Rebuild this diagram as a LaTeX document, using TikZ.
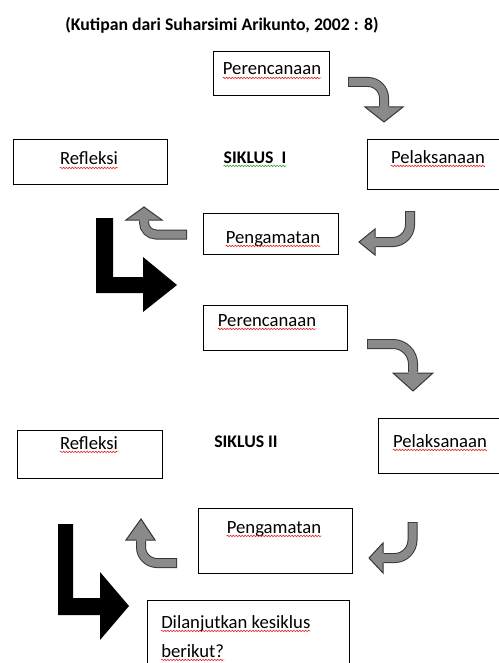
\documentclass[tikz,border=0pt]{standalone}
\usepackage{fontspec}
\setmainfont{Carlito}
\usetikzlibrary{decorations.pathmorphing}
\definecolor{arrfill}{RGB}{138,138,138}
\definecolor{arrline}{RGB}{55,55,55}
\definecolor{spellred}{RGB}{225,40,40}
\definecolor{spellgreen}{RGB}{60,160,60}
\begin{document}
\begin{tikzpicture}[x=0.75pt,y=-0.75pt,
  box/.style 2 args={draw=black, line width=0.8pt, inner sep=0, anchor=north west,
    minimum width=#1*0.75pt, minimum height=#2*0.75pt},
  txt/.style={inner sep=0, anchor=base, font=\fontsize{14}{17}\selectfont},
  ttl/.style={inner sep=0, anchor=base, font=\fontsize{13.3}{16}\selectfont\bfseries},
  spell/.style={draw=spellred, line width=0.45pt, decorate,
    decoration={snake, amplitude=0.55pt, segment length=2.2pt}},
  spellg/.style={spell, draw=spellgreen},
  shaftout/.style={draw=arrline, line width=7.5pt},
  shaftin/.style={draw=arrfill, line width=6pt},
  head/.style={fill=arrfill, draw=arrline, line width=0.75pt, line join=miter},
  blk/.style={fill=black}]
\clip (0,0) rectangle (499,663);
\fill[white] (0,0) rectangle (499,663);

% title
\node[ttl] (title) at (222,31) {(Kutipan dari Suharsimi Arikunto, 2002 : 8)};

% boxes
\node[box={116}{44}] (per1) at (213,51) {};
\node[box={154}{45}] (ref1) at (13,139) {};
\node[box={140}{50}] (pel1) at (367,139) {};
\node[box={135}{41}] (pen1) at (203,213) {};
\node[box={144}{45}] (per2) at (203,305) {};
\node[box={145}{48}] (ref2) at (17,430) {};
\node[box={130}{55}] (pel2) at (378,418) {};
\node[box={154}{65}] (pen2) at (198,508) {};
\node[box={202}{70}] (dil) at (147,600) {};

% texts
\node[txt] (tper1) at (272,75) {Perencanaan};
\node[txt] (tref1) at (89,165) {Refleksi};
\node[ttl] (sik1) at (255,163) {SIKLUS\ \ I};
\node[txt] (tpel1) at (438,163) {Pelaksanaan};
\node[txt] (tpen1) at (273,243) {Pengamatan};
\node[txt] (tper2) at (267,326) {Perencanaan};
\node[txt] (tref2) at (89,449) {Refleksi};
\node[ttl] (sik2) at (246,447) {SIKLUS II};
\node[txt] (tpel2) at (440,447) {Pelaksanaan};
\node[txt] (tpen2) at (274,533) {Pengamatan};
\node[txt, anchor=base west] (tdil1) at (161,628) {Dilanjutkan kesiklus};
\node[txt, anchor=base west] (tdil2) at (161,657) {berikut?};

% spell-check underlines
\foreach \n in {tper1,tref1,tpel1,tpen1,tper2,tref2,tpel2,tpen2,tdil1,tdil2}
  \draw[spell] ([yshift=-2.2pt]\n.base west) -- ([yshift=-2.2pt]\n.base east);
\draw[spellg] ([yshift=-2.2pt]sik1.base west) -- ([yshift=-2.2pt]sik1.base east);

% gray curved arrows
% A1: Perencanaan -> Pelaksanaan (cycle I)
\draw[shaftout] (348,82) -- (368,82) .. controls (376.8,82) and (384,89.2) .. (384,98) -- (384,106);
\draw[head] (365,107) -- (403,107) -- (384,122) -- cycle;
\draw[shaftin] (348.8,82) -- (368,82) .. controls (376.8,82) and (384,89.2) .. (384,98) -- (384,108.5);
% A2: Pelaksanaan -> Pengamatan
\draw[shaftout] (410,211) -- (410,225) .. controls (410,234.4) and (401.8,242) .. (393,242) -- (376,242);
\draw[head] (375,229) -- (375,255) -- (359,242) -- cycle;
\draw[shaftin] (410,211.8) -- (410,225) .. controls (410,234.4) and (401.8,242) .. (393,242) -- (373.5,242);
% A3: Pengamatan -> Refleksi
\draw[shaftout] (187,234.5) -- (156,234.5) .. controls (149.4,234.5) and (144,229.1) .. (144,222.5) -- (144,221);
\draw[head] (126,220) -- (162,220) -- (144,207) -- cycle;
\draw[shaftin] (186.2,234.5) -- (156,234.5) .. controls (149.4,234.5) and (144,229.1) .. (144,222.5) -- (144,218.5);
% A4: Perencanaan -> Pelaksanaan (cycle II)
\draw[shaftout] (367,344) -- (393,344) .. controls (404,344) and (413,353) .. (413,364) -- (413,372);
\draw[head] (393,373) -- (433,373) -- (413,391) -- cycle;
\draw[shaftin] (367.8,344) -- (393,344) .. controls (404,344) and (413,353) .. (413,364) -- (413,374.5);
% A5: Pelaksanaan -> Pengamatan
\draw[shaftout] (412.5,522) -- (412.5,540) .. controls (412.5,549.6) and (404.6,558) .. (395,558) -- (384,558);
\draw[head] (383,543) -- (383,573) -- (369,558) -- cycle;
\draw[shaftin] (412.5,522.8) -- (412.5,540) .. controls (412.5,549.6) and (404.6,558) .. (395,558) -- (381.5,558);
% A6: Pengamatan -> Refleksi
\draw[shaftout] (177,563) -- (157,563) .. controls (148.2,563) and (141,555.8) .. (141,547) -- (141,541);
\draw[head] (126,540) -- (155,540) -- (141,519) -- cycle;
\draw[shaftin] (176.2,563) -- (157,563) .. controls (148.2,563) and (141,555.8) .. (141,547) -- (141,538.5);

% black L arrows
\fill[blk] (96,218) -- (113,218) -- (113,277) -- (143,277) -- (143,257) -- (177,285)
  -- (143,312) -- (143,293) -- (96,293) -- cycle;
\fill[blk] (58,524) -- (73,524) -- (73,598) -- (100,598) -- (100,572) -- (129,606)
  -- (100,640) -- (100,615) -- (58,615) -- cycle;
\end{tikzpicture}
\end{document}
